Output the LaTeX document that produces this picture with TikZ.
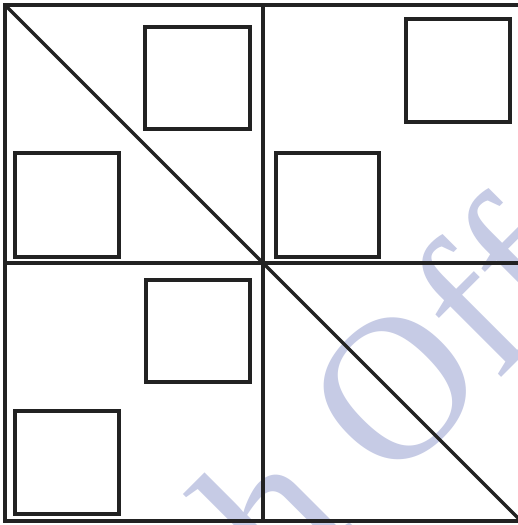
\documentclass[tikz,border=0pt]{standalone}
\usepackage{fontspec}
\newfontfamily\wmfont[Ligatures=NoCommon]{Liberation Serif}
\definecolor{wmcol}{RGB}{198,203,229}
\definecolor{ink}{RGB}{34,34,34}
\tikzset{
  frameline/.style={draw=ink, line width=3.2pt},
  sq/.style={draw=ink, line width=3.2pt},
  wmark/.style={text=wmcol, font=\wmfont\fontsize{205}{205}\selectfont, inner sep=0pt}
}
\begin{document}
\begin{tikzpicture}[x=1pt, y=-1pt]
  \useasboundingbox (0,0) rectangle (518,525);
  \fill[white] (0,0) rectangle (518,525);
  \clip (0,0) rectangle (518,525);
  % watermark
  \node[wmark, rotate=45, anchor=base west] (wm) at (282,597) {h Off};
  % frame and grid
  \coordinate (tl) at (5,5);
  \coordinate (tr) at (521,5);
  \coordinate (bl) at (5,521);
  \coordinate (br) at (521,521);
  \coordinate (c) at (263,263);
  \coordinate (mt) at (263,5);
  \coordinate (mb) at (263,521);
  \coordinate (ml) at (5,263);
  \coordinate (mr) at (521,263);
  \draw[frameline] (tl) -- (tr) -- (br) -- (bl) -- cycle;
  \draw[frameline] (mt) -- (mb);
  \draw[frameline] (ml) -- (mr);
  \draw[frameline] (tl) -- (br);
  % squares
  \draw[sq] (145,27) rectangle (250,129);
  \draw[sq] (15,153) rectangle (119,257);
  \draw[sq] (406,19) rectangle (510,122);
  \draw[sq] (276,153) rectangle (379,257);
  \draw[sq] (146,280) rectangle (250,382);
  \draw[sq] (15,411) rectangle (119,514);
\end{tikzpicture}
\end{document}
